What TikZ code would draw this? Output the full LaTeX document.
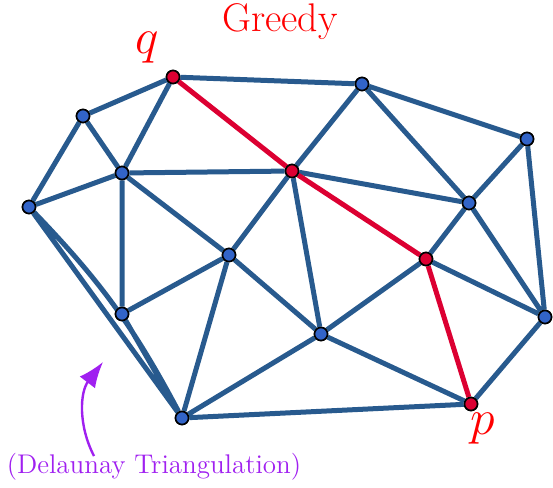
\documentclass[tikz,border=0pt]{standalone}
\usepackage{xcolor}
\usepackage{tikz}
\usetikzlibrary{arrows.meta,calc}

\definecolor{edgeblue}{RGB}{40,90,142}
\definecolor{dotblue}{RGB}{50,100,200}
\definecolor{pathred}{RGB}{220,0,50}
\definecolor{notepurple}{RGB}{160,32,240}

\begin{document}
\begin{tikzpicture}[
  x=0.5pt, y=-0.5pt,
  vertex/.style={circle,draw=black,line width=0.8pt,fill=dotblue,inner sep=0pt,minimum size=6.5pt},
  endpt/.style={vertex,fill=pathred},
  edge/.style={draw=edgeblue,line width=2.5pt},
  route/.style={draw=pathred,line width=2.5pt},
  arrow/.style={-{Latex[length=4.5mm,width=3.4mm]},line width=1.2pt,notepurple}
]
  \useasboundingbox (0,0) rectangle (553,488);

  \node[endpt] (q) at (173,77) {};
  \node[vertex] (a) at (83,116) {};
  \node[vertex] (b) at (122,173) {};
  \node[vertex] (c) at (29,207) {};
  \node[vertex] (d) at (122,314) {};
  \node[vertex] (e) at (182,418) {};
  \node[vertex] (f) at (229,255) {};
  \node[endpt] (g) at (292,171) {};
  \node[vertex] (h) at (362,84) {};
  \node[vertex] (i) at (321,334) {};
  \node[endpt] (j) at (426,259) {};
  \node[vertex] (k) at (469,203) {};
  \node[vertex] (l) at (527,139) {};
  \node[vertex] (m) at (545,317) {};
  \node[endpt] (p) at (471,404) {};

  \draw[edge] (q) -- (a) (q) -- (b) (q) -- (h)
    (a) -- (c) (a) -- (b) (b) -- (c) (b) -- (g) (b) -- (d) (b) -- (f)
    (c) -- (e) (c) to[bend left=8] (e)
    (d) -- (e) (d) -- (f) (f) -- (e) (f) -- (g) (f) -- (i)
    (g) -- (h) (g) -- (i) (g) -- (k)
    (h) -- (k) (h) -- (l)
    (e) -- (i) (e) -- (p) (i) -- (j) (i) -- (p)
    (j) -- (k) (j) -- (m) (k) -- (l) (k) -- (m) (l) -- (m) (m) -- (p);
  \draw[route] (q) -- (g) -- (j) -- (p);

  % redraw the dots on top of the lines
  \foreach \v in {a,b,c,d,e,f,h,i,k,l,m}
    \node[vertex] at (\v) {};
  \foreach \v in {q,g,j,p}
    \node[endpt] at (\v) {};

  \node[text=red,font=\fontsize{20}{22}\selectfont] (title) at (280,22) {Greedy};
  \node[text=red,font=\fontsize{26}{28}\selectfont] (qlabel) at (147,48) {$q$};
  \node[text=red,font=\fontsize{26}{28}\selectfont] (plabel) at (483,429) {$p$};
  \node[text=notepurple,font=\fontsize{13.5}{15}\selectfont] (note) at (154,467) {(Delaunay Triangulation)};

  \coordinate (tail) at (94,456);
  \coordinate (tip) at (103,362);
  \draw[arrow] (tail) .. controls (78,425) and (80,392) .. (tip);
\end{tikzpicture}
\end{document}
